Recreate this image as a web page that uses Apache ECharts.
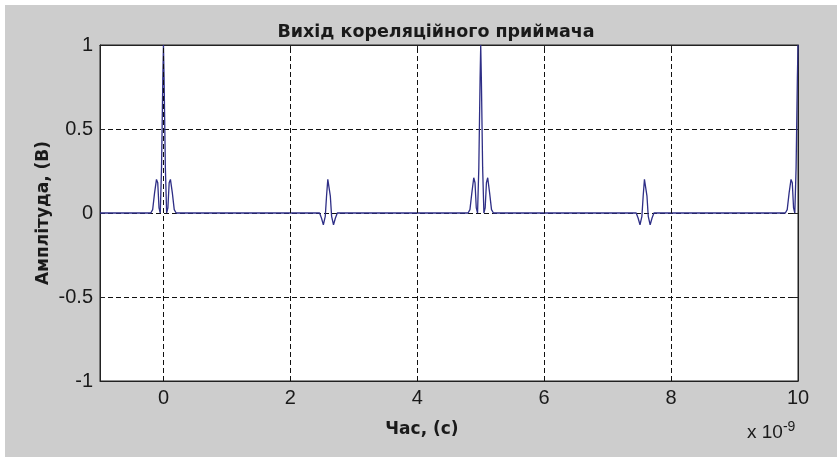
<!DOCTYPE html>
<html>
<head>
<meta charset="utf-8">
<script src="https://cdn.jsdelivr.net/npm/echarts@6/dist/echarts.min.js"></script>
<style>
html,body{margin:0;padding:0;background:#ffffff;width:837px;height:457px;overflow:hidden;}
#chart{position:absolute;left:5px;top:5px;width:832px;height:452px;}
</style>
</head>
<body>
<div id="chart"></div>
<script>
// Time axis (ns, scaled x 10^-9) and correlator output amplitude (V)
const times = [
  -1,
  -0.20, -0.17, -0.14, -0.11, -0.09, -0.07, -0.05, -0.03, -0.01, 0, 0.01, 0.03, 0.05, 0.07, 0.09, 0.11, 0.14, 0.17, 0.20,
  2.46, 2.49, 2.52, 2.55, 2.57, 2.59, 2.61, 2.63, 2.65, 2.68, 2.71, 2.74,
  4.80, 4.83, 4.86, 4.89, 4.91, 4.93, 4.95, 4.97, 4.99, 5.00, 5.01, 5.03, 5.05, 5.07, 5.09, 5.11, 5.14, 5.17, 5.20,
  7.45, 7.48, 7.51, 7.54, 7.56, 7.58, 7.60, 7.62, 7.64, 7.67, 7.70, 7.73,
  9.80, 9.83, 9.86, 9.89, 9.91, 9.93, 9.95, 9.97, 9.99, 10
];
const amplitude = [
  0,
  0, 0.02, 0.12, 0.20, 0.18, 0.03, 0, 0.27, 0.80, 1.00, 0.80, 0.27, 0, 0.03, 0.18, 0.20, 0.12, 0.02, 0,
  0, -0.03, -0.07, -0.02, 0.10, 0.20, 0.20, 0.10, -0.02, -0.07, -0.03, 0,
  0, 0.02, 0.12, 0.21, 0.18, 0.03, 0, 0.27, 0.80, 1.00, 0.80, 0.27, 0, 0.03, 0.18, 0.21, 0.12, 0.02, 0,
  0, -0.03, -0.07, -0.02, 0.10, 0.20, 0.20, 0.10, -0.02, -0.07, -0.03, 0,
  0, 0.02, 0.12, 0.20, 0.18, 0.03, 0, 0.27, 0.80, 1.00
];
const xTicks = [0, 2, 4, 6, 8, 10];
const xGridLines = [0, 2, 4, 6, 8];
const yTicks = [-1, -0.5, 0, 0.5, 1];

const titleText = 'Вихід кореляційного приймача';
const xName = 'Час, (с)';
const yName = 'Амплітуда, (В)';

const labelFont = '"Liberation Sans", Arial, sans-serif';
const boldFont = '"DejaVu Sans", Verdana, sans-serif';
const textColor = '#1a1a1a';

const chart = echarts.init(document.getElementById('chart'), null, {renderer: 'canvas'});

const axisCommon = {
  type: 'value',
  axisLine: {show: true, onZero: false, lineStyle: {color: '#222', width: 1}},
  axisTick: {show: true, inside: true, length: 5, lineStyle: {color: '#222'}},
};

const option = {
  backgroundColor: '#cdcdcd',
  animation: false,
  grid: {
    left: 95, right: 39, top: 40, bottom: 76,
    show: true, backgroundColor: '#ffffff', borderColor: '#222', borderWidth: 1
  },
  xAxis: [
    Object.assign({}, axisCommon, {
      min: -1, max: 10, position: 'bottom',
      axisTick: {show: true, inside: true, length: 5, customValues: xTicks, lineStyle: {color: '#222'}},
      axisLabel: {customValues: xTicks, margin: 7, fontFamily: labelFont, fontSize: 20, color: textColor},
      splitLine: {show: false}
    }),
    Object.assign({}, axisCommon, {
      min: -1, max: 10, position: 'top',
      axisTick: {show: true, inside: true, length: 5, customValues: xTicks, lineStyle: {color: '#222'}},
      axisLabel: {show: false},
      splitLine: {show: false}
    })
  ],
  yAxis: [
    Object.assign({}, axisCommon, {
      min: -1, max: 1, interval: 0.5, position: 'left',
      axisLabel: {margin: 7, fontFamily: labelFont, fontSize: 20, color: textColor},
      splitLine: {show: true, lineStyle: {color: '#111', width: 1, type: [5, 3]}},
      name: yName, nameLocation: 'middle', nameGap: 48, nameRotate: 90,
      nameMoveOverlap: false,
      nameTextStyle: {fontFamily: boldFont, fontWeight: 'bold', fontSize: 17, color: textColor}
    }),
    Object.assign({}, axisCommon, {
      min: -1, max: 1, interval: 0.5, position: 'right',
      axisLabel: {show: false},
      splitLine: {show: false}
    })
  ],
  graphic: [
    {
      type: 'text',
      x: 431, y: 27,
      style: {
        text: titleText, align: 'center', verticalAlign: 'middle',
        fontFamily: boldFont, fontWeight: 'bold', fontSize: 17.5, fill: textColor
      }
    },
    {
      type: 'text',
      x: 417, y: 425,
      style: {
        text: xName, align: 'center', verticalAlign: 'middle',
        fontFamily: boldFont, fontWeight: 'bold', fontSize: 17, fill: textColor
      }
    },
    {
      type: 'text',
      left: 742, top: 415,
      style: {
        text: 'x 10{sup|-9}',
        fontFamily: labelFont, fontSize: 19, fill: textColor,
        rich: {sup: {fontFamily: labelFont, fontSize: 14, verticalAlign: 'top', padding: [0, 0, 12, 0], fill: textColor}}
      }
    }
  ],
  series: [
    {
      type: 'line',
      xAxisIndex: 0, yAxisIndex: 0,
      data: times.map((t, i) => [t, amplitude[i]]),
      showSymbol: false,
      symbol: 'none',
      lineStyle: {color: '#2e2e86', width: 1.3},
      clip: true,
      z: 3,
      markLine: {
        silent: true,
        symbol: 'none',
        label: {show: false},
        lineStyle: {color: '#111', width: 1, type: [5, 3]},
        data: xGridLines.map(v => ({xAxis: v})),
        z: 4
      }
    }
  ]
};
chart.setOption(option);
</script>
</body>
</html>
